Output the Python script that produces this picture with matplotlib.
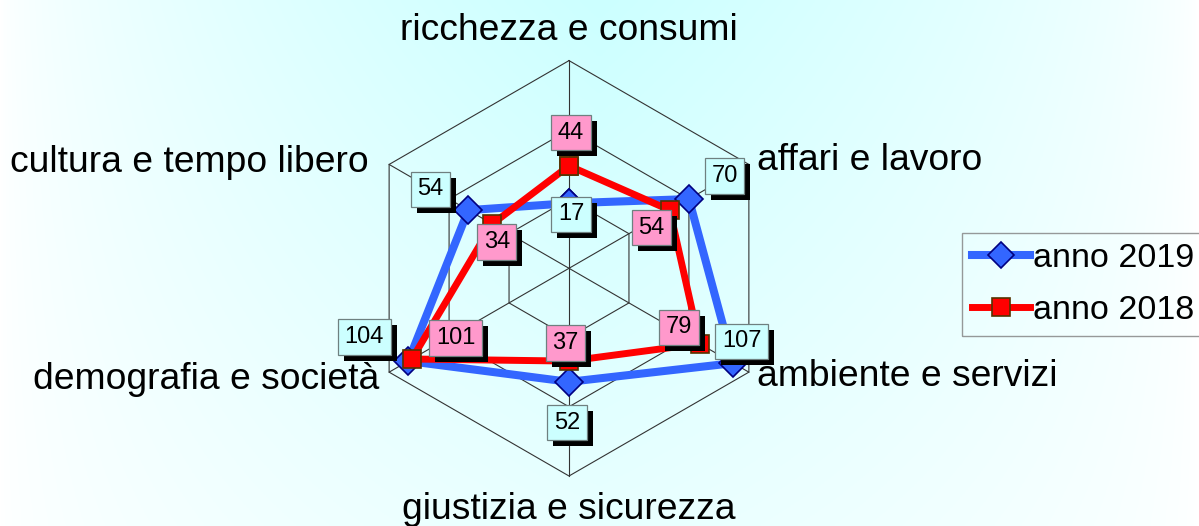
import numpy as np
import matplotlib
matplotlib.use("Agg")
import matplotlib.pyplot as plt
import matplotlib.patheffects as pe
from matplotlib.colors import to_rgb

plt.rcParams['font.family'] = ['Liberation Sans', 'DejaVu Sans']

# ---- data ----
categories = ["ricchezza e consumi", "affari e lavoro", "ambiente e servizi",
              "giustizia e sicurezza", "demografia e società", "cultura e tempo libero"]
values_2019 = [17, 70, 107, 52, 104, 54]
values_2018 = [44, 54, 79, 37, 101, 34]
series_names = ["anno 2019", "anno 2018"]
r_min, r_max = -30, 120
ring_values = [20, 70, 120]

# label offsets (pixels: right, down) relative to the data point
off_2019 = [(2, 11), (35.6, -23), (8.5, -21.7), (-2, 41), (-44, -24), (-37.8, -20.8)]
off_2018 = [(2, -33), (-18, 17.5), (-20.6, -16.3), (-3.3, -18), (43.6, -21), (4.5, 18)]

W, H = 1199, 526
fig = plt.figure(figsize=(W / 100, H / 100), dpi=100)

# ---- background gradient ----
bg = fig.add_axes([0, 0, 1, 1], zorder=-10)
u = np.linspace(0, 1, 400)[None, :]
v = np.linspace(0, 1, 200)[:, None]
hx = np.clip(1 - np.abs(2 * u - 1.0) * 1.0, 0, 1) ** 0.6
vy = 1 - 0.55 * v
t = hx * vy
c0 = np.array(to_rgb('#ffffff'))
c1 = np.array(to_rgb('#ccffff'))
img = c0[None, None, :] * (1 - t[..., None]) + c1[None, None, :] * t[..., None]
bg.imshow(img, aspect='auto', extent=[0, 1, 0, 1], origin='upper')
bg.set_axis_off()

# ---- polar axes ----
cx, cy, R = 569, 526 - 268.3, 207.7
ax = fig.add_axes([(cx - R) / W, (cy - R) / H, 2 * R / W, 2 * R / H], projection='polar')
ax.set_facecolor('none')
ax.set_theta_offset(np.pi / 2)
ax.set_theta_direction(-1)
ax.set_ylim(r_min, r_max)
ax.grid(False)
ax.set_xticks([])
ax.set_yticks([])
ax.spines['polar'].set_visible(False)

n = len(categories)
theta = np.arange(n) * 2 * np.pi / n
theta_c = np.append(theta, theta[0])

for rv in ring_values:
    ax.plot(theta_c, [rv] * (n + 1), color='#333333', lw=0.8, zorder=1, clip_on=False)
for th in theta:
    ax.plot([th, th], [r_min, r_max], color='#333333', lw=0.8, zorder=1, clip_on=False)

v19 = values_2019 + values_2019[:1]
v18 = values_2018 + values_2018[:1]
l19, = ax.plot(theta_c, v19, color='#3366ff', lw=5.8, marker='D', ms=14,
               mfc='#3366ff', mec='#000080', mew=1.2, zorder=3, clip_on=False,
               label=series_names[0], solid_joinstyle='miter')
l18, = ax.plot(theta_c, v18, color='#ff0000', lw=5.0, marker='s', ms=13,
               mfc='#ff0000', mec='#553300', mew=1.2, zorder=4, clip_on=False,
               label=series_names[1], solid_joinstyle='miter')

shadow = [pe.withSimplePatchShadow(offset=(4.3, -4.3), shadow_rgbFace='black', alpha=1.0)]

def add_labels(vals, offs, fc):
    for th, val, (dx, dy) in zip(theta, vals, offs):
        a = ax.annotate(str(val), xy=(th, val), xytext=(dx * 0.72, -dy * 0.72),
                        textcoords='offset points', ha='center', va='center',
                        fontsize=17, zorder=10, annotation_clip=False,
                        bbox=dict(boxstyle='square,pad=0.28', fc=fc, ec='#6f8080', lw=0.9))
        a.get_bbox_patch().set_path_effects(shadow)

add_labels(values_2019, off_2019, '#ccffff')
add_labels(values_2018, off_2018, '#ff99cc')

# ---- category labels (pixel positions: x, baseline y, alignment) ----
fs = 26.8
cat_pos = [(568.5, 39.5, 'center'), (757, 170, 'left'), (757, 386, 'left'),
           (569, 519.3, 'center'), (379.5, 389.3, 'right'), (368.5, 171.7, 'right')]
for name, (x, y, ha) in zip(categories, cat_pos):
    fig.text(x / W, 1 - y / H, name, ha=ha, va='baseline', fontsize=fs)

# ---- legend ----
leg = fig.legend(handles=[l19, l18], loc='upper left', mode='expand',
                 bbox_to_anchor=(962 / W, 1 - 336 / H, 270 / W, 103 / H), fontsize=24.5,
                 frameon=True, fancybox=False, edgecolor='#808080', facecolor='none',
                 handlelength=1.7, handletextpad=0.1, borderpad=0.3,
                 labelspacing=0.6, borderaxespad=0, numpoints=1, markerscale=0.95)
leg.get_frame().set_linewidth(1.0)

fig.savefig('out.png', dpi=100)
